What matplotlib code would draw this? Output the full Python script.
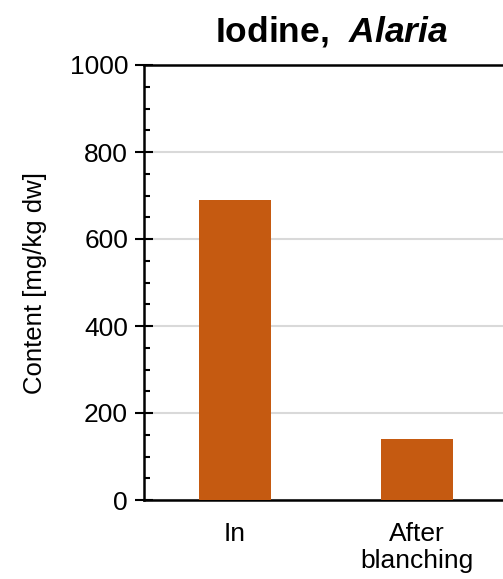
import matplotlib
matplotlib.use("Agg")
import matplotlib.pyplot as plt
from matplotlib.ticker import MultipleLocator

# Data
categories = ["In", "After\nblanching"]
iodine = [690, 140]

bar_color = "#C55A11"
grid_color = "#D9D9D9"

plt.rcParams["font.family"] = ["Liberation Sans", "DejaVu Sans"]
plt.rcParams["mathtext.fontset"] = "custom"
plt.rcParams["mathtext.bfit"] = "Liberation Sans:italic:bold"
plt.rcParams["mathtext.rm"] = "Liberation Sans"


def main():
    fig = plt.figure(figsize=(5.03, 5.79), dpi=100)
    ax = fig.add_axes([144 / 503, 1 - 500 / 579, 364 / 503, 435 / 579])

    x = list(range(len(categories)))
    ax.bar(x, iodine, width=0.4, color=bar_color, zorder=3)

    ax.set_xlim(-0.5, 1.5)
    ax.set_ylim(0, 1000)
    ax.set_xticks(x)
    ax.set_xticklabels(categories, fontsize=19, linespacing=1.15)
    ax.tick_params(axis="x", length=0, pad=16)

    ax.yaxis.set_major_locator(MultipleLocator(200))
    ax.yaxis.set_minor_locator(MultipleLocator(50))
    ax.tick_params(axis="y", which="major", direction="inout", length=13,
                   width=1.5, labelsize=19, pad=5)
    ax.tick_params(axis="y", which="minor", direction="in", length=4,
                   width=1.5)

    ax.grid(axis="y", color=grid_color, linewidth=1.5, zorder=0)
    ax.set_axisbelow(True)

    for side in ["left", "bottom", "top"]:
        ax.spines[side].set_linewidth(1.8)
    ax.spines["right"].set_visible(False)

    ax.set_ylabel("Content [mg/kg dw]", fontsize=18.5, labelpad=16)
    ax.set_title(r"Iodine,  $\mathbfit{Alaria}$", fontsize=25.5,
                 fontweight="bold", pad=17, x=0.516)

    fig.savefig("out.png", dpi=100)


if __name__ == "__main__":
    main()
